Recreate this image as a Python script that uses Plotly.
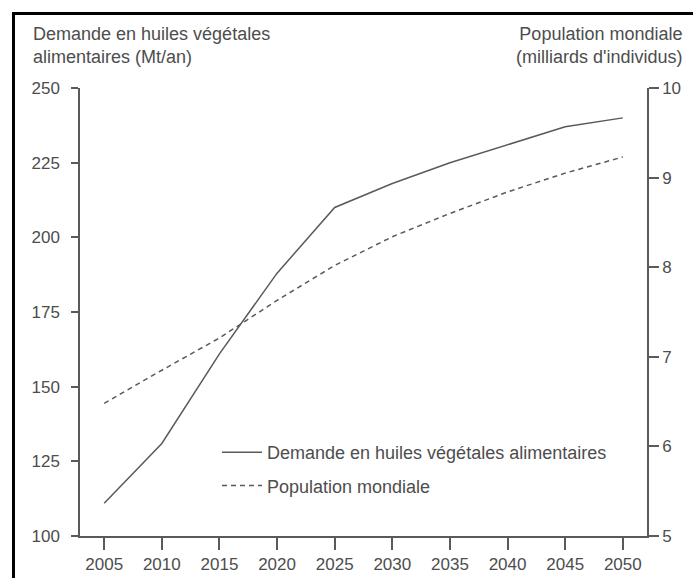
import plotly.graph_objects as go

years = [2005, 2010, 2015, 2020, 2025, 2030, 2035, 2040, 2045, 2050]
demande = [111, 131, 161, 188, 210, 218, 225, 231, 237, 240]
population = [6.48, 6.85, 7.21, 7.63, 8.02, 8.34, 8.6, 8.84, 9.05, 9.23]

left_ticks = [100, 125, 150, 175, 200, 225, 250]
right_ticks = [5, 6, 7, 8, 9, 10]

name_dem = "Demande en huiles végétales alimentaires"
name_pop = "Population mondiale"

GRAY = "#5a5a5a"
TXT = "#4d4d4d"
FONT = "Liberation Sans, Arial, sans-serif"

fig = go.Figure()
fig.add_trace(go.Scatter(x=years, y=demande, mode="lines", name=name_dem,
                         line=dict(color=GRAY, width=1.5), legendgroup="a"))
fig.add_trace(go.Scatter(x=years, y=population, mode="lines", name=name_pop,
                         line=dict(color=GRAY, width=1.5, dash="5px,4px"),
                         yaxis="y2", legendgroup="b"))

W, H = 693, 578
L, R, T, B = 80, 46, 88, 42
pw = W - L - R
ph = H - T - B

fig.update_layout(
    width=W, height=H,
    margin=dict(l=L, r=R, t=T, b=B, autoexpand=False),
    paper_bgcolor="white", plot_bgcolor="white",
    font=dict(family=FONT, size=17, color=TXT),
    xaxis=dict(range=[2002.9, 2052.1], tickvals=years, ticks="outside",
               ticklen=12, tickwidth=1.5, tickcolor=GRAY, showline=True,
               linecolor=GRAY, linewidth=1.5, showgrid=False, zeroline=False,
               automargin=False, tickfont=dict(size=17, color=TXT)),
    yaxis=dict(range=[100, 250], tickvals=left_ticks, ticks="outside",
               ticklen=7, tickwidth=1.5, tickcolor=GRAY, showline=True,
               linecolor=GRAY, linewidth=1.5, showgrid=False, zeroline=False,
               ticklabelstandoff=8, automargin=False,
               tickfont=dict(size=17, color=TXT)),
    yaxis2=dict(range=[5, 10], tickvals=right_ticks, overlaying="y", side="right",
                ticks="outside", ticklen=10, tickwidth=1.5, tickcolor=GRAY,
                showline=True, linecolor=GRAY, linewidth=1.5, showgrid=False,
                zeroline=False, automargin=False, tickfont=dict(size=17, color=TXT)),
    showlegend=True,
    legend=dict(x=(217 - L) / pw, y=(536 - 434) / ph, xanchor="left", yanchor="top",
                bgcolor="rgba(0,0,0,0)", font=dict(size=18, color=TXT),
                traceorder="grouped", tracegroupgap=7, itemwidth=40),
    annotations=[
        dict(text="Demande en huiles végétales<br>alimentaires (Mt/an)",
             xref="paper", yref="paper", x=(31 - L) / pw, y=1 + (T - 22) / ph,
             xanchor="left", yanchor="top", align="left", showarrow=False,
             font=dict(size=18, color=TXT)),
        dict(text="Population mondiale<br>(milliards d'individus)",
             xref="paper", yref="paper", x=1 + (684 - (W - R)) / pw, y=1 + (T - 22) / ph,
             xanchor="right", yanchor="top", align="right", showarrow=False,
             font=dict(size=18, color=TXT)),
    ],
    shapes=[
        dict(type="line", xref="paper", yref="paper",
             x0=(12 - L) / pw, x1=(W + 5 - L) / pw,
             y0=1 + (T - 13.5) / ph, y1=1 + (T - 13.5) / ph,
             line=dict(color="black", width=3)),
        dict(type="line", xref="paper", yref="paper",
             x0=(13.5 - L) / pw, x1=(13.5 - L) / pw,
             y0=1 + (T - 12) / ph, y1=-(B + 5) / ph,
             line=dict(color="black", width=3)),
    ],
)

fig.write_html("out.html", config={"displayModeBar": False},
               post_script="document.body.style.margin='0';document.body.style.overflow='hidden';")
